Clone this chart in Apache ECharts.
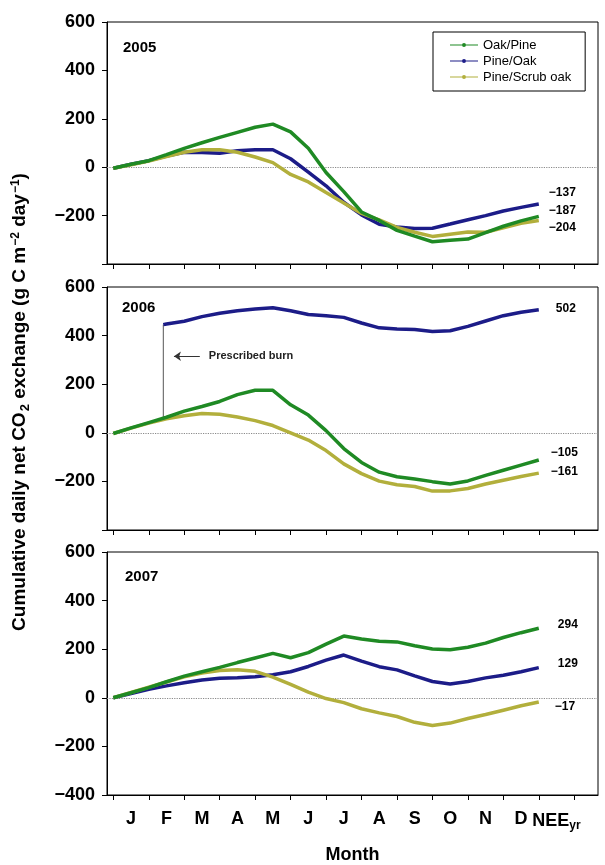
<!DOCTYPE html>
<html><head><meta charset="utf-8">
<script src="https://cdn.jsdelivr.net/npm/echarts@6/dist/echarts.min.js"></script>
<style>html,body{margin:0;padding:0;background:#fff}#c{width:605px;height:865px}</style>
</head><body><div id="c"></div>
<script>
// ---- data ----
const months = [0,0.5,1,1.5,2,2.5,3,3.5,4,4.5,5,5.5,6,6.5,7,7.5,8,8.5,9,9.5,10,10.5,11,11.5,12];
const seriesNames = ['Oak/Pine', 'Pine/Oak', 'Pine/Scrub oak'];
const yearLabels = ['2005', '2006', '2007'];

const oakPine2005   = [-4,12,27,52,78,101,123,144,165,178,146,78,-22,-101,-185,-220,-261,-285,-308,-302,-297,-270,-244,-222,-203];
const pineOak2005   = [-4,12,27,46,62,61,58,68,72,72,35,-20,-77,-145,-197,-236,-247,-253,-252,-235,-217,-200,-181,-166,-152];
const pineScrub2005 = [-4,10,25,44,62,72,72,62,42,19,-30,-61,-105,-148,-191,-218,-249,-269,-286,-277,-268,-269,-250,-232,-220];

const oakPine2006   = [-3,20,42,64,89,108,129,157,175,175,115,73,9,-65,-122,-162,-181,-190,-201,-211,-198,-175,-154,-133,-112];
const pineOak2006   = [null,null,null,448,459,478,492,502,509,515,502,487,482,475,452,432,427,425,417,420,438,460,482,496,506];
const pineScrub2006 = [-3,19,40,58,70,79,76,65,50,30,0,-30,-73,-128,-168,-199,-214,-221,-240,-239,-229,-211,-195,-180,-166];

const oakPine2007   = [0,21,42,66,89,107,125,145,164,183,165,186,221,254,242,233,230,214,201,198,208,225,248,268,286];
const pineOak2007   = [0,17,35,49,62,73,80,83,87,95,107,129,155,176,151,128,115,90,67,57,67,82,93,107,124];
const pineScrub2007 = [0,22,44,65,86,102,112,115,109,85,55,23,-3,-20,-45,-62,-77,-101,-114,-104,-85,-69,-51,-33,-17];

// prescribed burn (2006, Pine/Oak)
const burnMonth = 1.41;
const burnFrom = 62;
const burnTo = 445;
const burnArrowTip = 1.71, burnArrowTail = 2.44, burnArrowY = 315;

// annual NEE labels [Oak/Pine, Pine/Oak, Pine/Scrub oak]
const annualNEE2005 = [-187, -137, -204];
const annualNEE2006 = [-105, 502, -161];
const annualNEE2007 = [294, 129, -17];

const monthLabels = ['J','F','M','A','M','J','J','A','S','O','N','D','NEE'];
const monthTicks = [0,1,2,3,4,5,6,7,8,9,10,11,12,13];
const monthLabelPos = [0.5,1.5,2.5,3.5,4.5,5.5,6.5,7.5,8.5,9.5,10.5,11.5,12.5];

// ---- layout / style ----
const FONT = 'Liberation Sans, Arial, Helvetica, sans-serif';
const colors = ['#1f8a24', '#1c1c88', '#b2af3c'];
const panels = [
  {top: 22, height: 242, data: [oakPine2005, pineOak2005, pineScrub2005], nee: annualNEE2005,
   lbl: [{d:10, dy:-6}, {d:10, dy:-11}, {d:10, dy:7}]},
  {top: 287, height: 243, data: [oakPine2006, pineOak2006, pineScrub2006], nee: annualNEE2006,
   lbl: [{d:12, dy:-7}, {d:17, dy:-1}, {d:12, dy:-1}]},
  {top: 552, height: 245, data: [oakPine2007, pineOak2007, pineScrub2007], nee: annualNEE2007,
   lbl: [{d:19, dy:-4}, {d:19, dy:-4}, {d:16, dy:5}]}
];
const fmtNum = v => v < 0 ? '\u2212' + Math.abs(v) : String(v);

const grid = [], xAxis = [], yAxis = [], series = [];
panels.forEach((p, i) => {
  grid.push({left: 107, width: 491, top: p.top, height: p.height, show: true,
    borderColor: '#000', borderWidth: 1, backgroundColor: 'transparent'});
  xAxis.push({
    type: 'value', gridIndex: i, min: -0.178, max: 13.67,
    axisLine: {onZero: false, lineStyle: {color: '#000', width: 1}},
    axisTick: {show: true, customValues: monthTicks, length: 5, lineStyle: {color: '#000'}},
    axisLabel: i < 2 ? {show: false} : {
      show: true, customValues: monthLabelPos, margin: 15, color: '#000',
      fontSize: 18, fontWeight: 'bold', fontFamily: FONT,
      formatter: v => {
        const t = monthLabels[Math.floor(v)];
        return t === 'NEE' ? 'NEE{s|yr}' : t;
      },
      rich: {s: {fontSize: 12, fontWeight: 'bold', fontFamily: FONT, color: '#000', padding: [10, 0, 0, 0]}}
    },
    splitLine: {show: false},
    name: i === 2 ? 'Month' : '', nameLocation: 'middle', nameGap: 51,
    nameTextStyle: {fontSize: 18, fontWeight: 'bold', fontFamily: FONT, color: '#000'}
  });
  yAxis.push({
    type: 'value', gridIndex: i, min: -400, max: 600, interval: 200,
    axisLine: {show: true, onZero: false, lineStyle: {color: '#000', width: 1}},
    axisTick: {show: true, length: 5, lineStyle: {color: '#000'}},
    axisLabel: {color: '#000', fontSize: 18, fontWeight: 'bold', fontFamily: FONT, margin: 12,
      formatter: v => (i < 2 && v === -400) ? '' : fmtNum(v)},
    splitLine: {show: false}
  });
  // drawing order: Pine/Oak, Pine/Scrub oak, Oak/Pine
  [1, 2, 0].forEach((j, order) => {
    let data = [];
    if (i === 1 && j === 1) data.push([burnMonth, burnTo]);
    months.forEach((m, k) => { if (p.data[j][k] != null) data.push([m, p.data[j][k]]); });
    const s = {
      type: 'line', name: seriesNames[j], xAxisIndex: i, yAxisIndex: i, data,
      showSymbol: false, symbol: 'circle', symbolSize: 4, silent: true,
      lineStyle: {width: 3.5, color: colors[j]}, itemStyle: {color: colors[j]},
      z: 3 + order,
      endLabel: {show: true, formatter: () => fmtNum(p.nee[j]), distance: p.lbl[j].d,
        offset: [0, p.lbl[j].dy], color: '#000', fontSize: 12, fontWeight: 'bold', fontFamily: FONT},
      animation: false
    };
    if (order === 0) {
      s.markLine = {silent: true, symbol: ['none', 'none'], animation: false, z: 1,
        data: [{yAxis: 0}], label: {show: false},
        lineStyle: {type: 'dotted', color: '#8a8a8a', width: 1.2}};
    }
    series.push(s);
  });
});

// prescribed burn connector and annotation
series.push({
  type: 'line', name: 'burn', xAxisIndex: 1, yAxisIndex: 1, silent: true, animation: false,
  data: [[burnMonth, burnFrom], [burnMonth, burnTo]], showSymbol: false, z: 2,
  lineStyle: {color: '#555', width: 1},
  markLine: {silent: true, animation: false, symbol: ['arrow', 'none'], symbolSize: 7,
    data: [[{coord: [burnArrowTip, burnArrowY]}, {coord: [burnArrowTail, burnArrowY]}]],
    lineStyle: {color: '#333', width: 1, type: 'solid'},
    label: {show: true, position: 'end', distance: 9, formatter: 'Prescribed burn',
      color: '#222', fontSize: 11, fontWeight: 'bold', fontFamily: FONT}}
});

const option = {
  animation: false,
  backgroundColor: '#fff',
  grid, xAxis, yAxis, series,
  legend: {
    data: seriesNames, orient: 'vertical', left: 433, top: 32,
    padding: [5, 14, 6, 17], itemGap: 0, itemWidth: 28, itemHeight: 4,
    icon: 'path://M0,1.5H28V2.5H0Z M14,0A2,2,0,1,1,14,4A2,2,0,1,1,14,0Z',
    borderColor: '#000', borderWidth: 1, backgroundColor: '#fff',
    selectedMode: false,
    textStyle: {fontSize: 13, lineHeight: 16, color: '#000', fontFamily: FONT}
  },
  graphic: [
    {type: 'text', left: 123, top: 40, style: {text: yearLabels[0], fontSize: 15, fontWeight: 'bold', fontFamily: FONT, fill: '#000'}},
    {type: 'text', left: 122, top: 300, style: {text: yearLabels[1], fontSize: 15, fontWeight: 'bold', fontFamily: FONT, fill: '#000'}},
    {type: 'text', left: 125, top: 569, style: {text: yearLabels[2], fontSize: 15, fontWeight: 'bold', fontFamily: FONT, fill: '#000'}},
    {type: 'text', x: 20, y: 402, rotation: Math.PI / 2,
      style: {
        text: '{a|Cumulative daily net CO}{b|2}{a| exchange (g C m}{c|\u22122}{a| day}{c|\u22121}{a|)}',
        align: 'center', verticalAlign: 'middle', fill: '#000',
        fontSize: 19, fontWeight: 'bold', fontFamily: FONT,
        rich: {
          a: {fontSize: 19, fontWeight: 'bold', fontFamily: FONT, fill: '#000', lineHeight: 26, verticalAlign: 'middle'},
          b: {fontSize: 13, fontWeight: 'bold', fontFamily: FONT, fill: '#000', lineHeight: 26, verticalAlign: 'bottom', padding: [0, 0, 1, 1]},
          c: {fontSize: 12, fontWeight: 'bold', fontFamily: FONT, fill: '#000', lineHeight: 26, verticalAlign: 'top', padding: [3, 0, 0, 1]}
        }
      }}
  ]
};
const chart = echarts.init(document.getElementById('c'), null, {renderer: 'canvas'});
chart.setOption(option);
</script>
</body></html>
